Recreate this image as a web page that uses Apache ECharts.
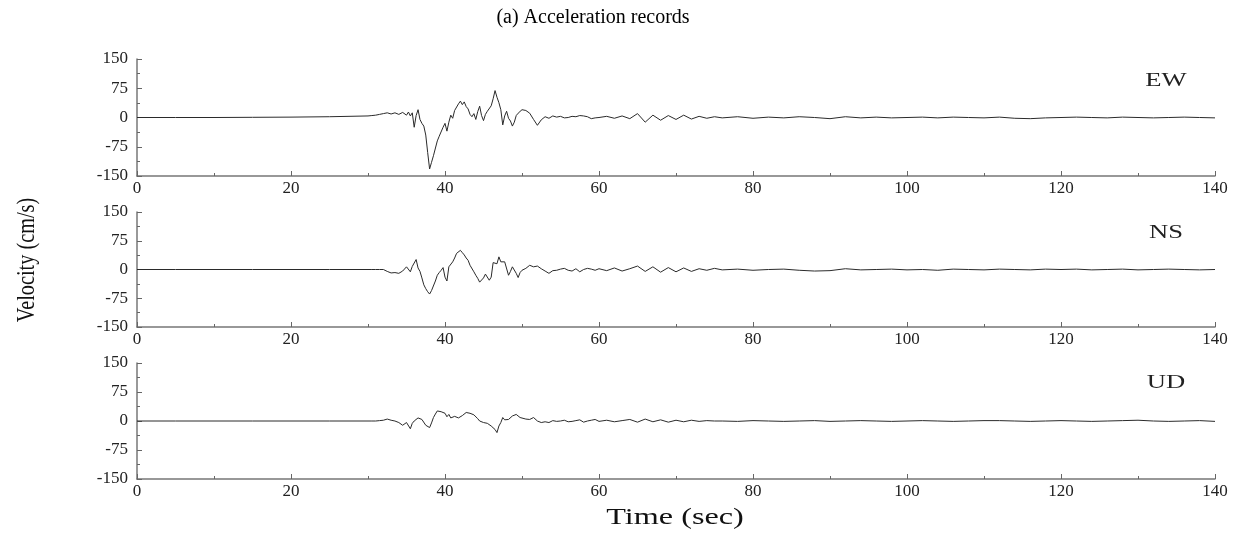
<!DOCTYPE html>
<html lang="en">
<head>
    <meta charset="UTF-8">
    <title>Acceleration records</title>
    <script src="https://cdn.jsdelivr.net/npm/echarts@6/dist/echarts.min.js"></script>
    <style>
        html, body { margin: 0; padding: 0; background: #fff; }
        #chart { width: 1247px; height: 536px; }
    </style>
</head>
<body>
    <div id="chart"></div>

    <script>
        // time grid (sec) shared by the three components, finer in the strong-motion part
        const timeSec = [
            0, 5, 10, 15, 20, 25, 30,
            30.5, 31, 31.5, 32, 32.5, 33, 33.5, 34, 34.5, 35,
            35.25, 35.5, 35.75, 36, 36.25, 36.5, 36.75, 37, 37.25, 37.5,
            37.75, 38, 38.25, 38.5, 38.75, 39, 39.25, 39.5, 39.75, 40,
            40.25, 40.5, 40.75, 41, 41.25, 41.5, 41.75, 42, 42.25, 42.5,
            42.75, 43, 43.25, 43.5, 43.75, 44, 44.25, 44.5, 44.75, 45,
            45.25, 45.5, 45.75, 46, 46.25, 46.5, 46.75, 47, 47.25, 47.5,
            47.75, 48, 48.25, 48.5, 48.75, 49, 49.25, 49.5, 49.75, 50,
            50.5, 51, 51.5, 52, 52.5, 53, 53.5, 54, 54.5, 55,
            55.5, 56, 56.5, 57, 57.5, 58, 58.5, 59, 59.5, 60,
            61, 62, 63, 64, 65, 66, 67, 68, 69, 70,
            71, 72, 73, 74, 75,
            76, 78, 80, 82, 84, 86, 88, 90, 92, 94,
            96, 98, 100, 102, 104, 106, 108, 110, 112, 114,
            116, 118, 120, 122, 124, 126, 128, 130, 132, 134,
            136, 138, 140
        ];

        const ewVel = [
            0, 0, 0, 0.5, 1, 2, 4,
            5, 6, 8, 10, 12, 9, 12, 8, 13, 6,
            14, 4, 12, -25, 5, 20, -5, -15, -22, -45,
            -90, -132, -115, -98, -102, -60, -48, -50, -25, -15,
            -35, -12, 6, -2, 18, 22, 35, 42, 33, 40,
            28, 22, 8, 2, 10, -5, 15, 29, 5, -8,
            8, 16, 12, 30, 48, 69, 52, 38, 20, -19,
            4, 16, -2, -9, -22, -12, 5, 11, 14, 20,
            18, 11, -5, -20, -6, 2, -2, 4, 1, 3,
            -1, 0, 3, 2, 5, 4, 2, -3, -1, 0,
            3, -2, 4, -3, 10, -12, 6, -7, 5, -5,
            6, -4, 3, -2, 2,
            -1, 2, -2, 1, -1, 2, 0, -3, 2, -1,
            1, -1, 0, 1, -1, 1, 0, -1, 1, -2,
            -3, -1, 0, 1, 0, -1, 1, 0, -1, 0,
            1, 0, -1
        ];

        const nsVel = [
            0, 0, 0, 0, 0, 0, 0,
            0, 0, 0, 0, -5, -9, -8, -10, -4, 7,
            3, -6, 8, 11, 26, 4, -5, -22, -40, -50,
            -58, -64, -55, -50, -30, -15, -8, -2, 5, -20,
            -30, 7, 10, 20, 30, 42, 47, 50, 44, 38,
            30, 24, 11, 8, -6, -15, -23, -33, -30, -22,
            -12, -15, -28, -20, 18, 22, 15, 33, 20, 15,
            20, 18, -15, -5, 7, 2, -10, -21, -8, -2,
            3, 11, 7, 9, 2, -4, -10, -3, -2, 1,
            3, -2, -4, 2, -6, 0, 3, 1, -2, 2,
            -3, 4, -4, 2, 9, -5, 7, -7, 5, -6,
            4, -5, 2, -2, 3,
            -1, 1, -2, 0, 1, -2, -4, -3, 2, -1,
            0, 1, -1, 0, -2, 1, 0, -1, 1, 0,
            -1, 1, 0, 1, -1, 0, 1, -1, 0, 1,
            0, -1, 0
        ];

        const udVel = [
            0, 0, 0, 0, 0, 0, 0,
            0, 0, 1, 2, 5, 2, 0, -4, -11, -4,
            -8, -20, -6, 0, 4, 8, 11, 4, 2, -11,
            -8, -17, -5, 9, 18, 26, 28, 24, 27, 20,
            11, 17, 8, 6, 12, 17, 8, 4, 14, 17,
            22, 26, 20, 22, 16, 13, 6, 0, -2, -4,
            -9, -6, -10, -13, -18, -22, -30, -13, -4, 9,
            3, 0, 4, 4, 13, 10, 17, 15, 9, 9,
            5, 4, 9, 0, -4, -2, -4, 1, -1, 0,
            2, -2, -1, 1, 3, -3, 0, 2, 4, -1,
            2, -2, 1, 4, -3, 5, -2, 3, -3, 2,
            -2, 2, -1, 1, 0,
            0, -1, 1, 0, -1, 0, 1, -1, 0, 1,
            0, -1, 0, 1, 0, -1, 0, 1, 1, 0,
            -1, 0, 1, 0, -1, 0, 1, 2, 0, -1,
            0, 1, -1
        ];

        const componentNames = ['EW', 'NS', 'UD'];
        const xTicks = [0, 140, 20];      // min, max, interval
        const yTicks = [-150, 150, 75];

        const serif = 'Liberation Serif';
        const grids = [
            { left: 137, width: 1078, top: 59, height: 117 },
            { left: 137, width: 1078, top: 212, height: 115 },
            { left: 137, width: 1078, top: 363, height: 116 }
        ];
        const labelY = [81, 233, 383];

        const axisLine = { show: true, onZero: false, lineStyle: { color: '#777', width: 1.5 } };
        const tickStyle = { show: true, inside: true, length: 5, lineStyle: { color: '#666' } };
        const minorStyle = { show: true, splitNumber: 2, length: 3, lineStyle: { color: '#666' } };
        const labelStyle = { fontFamily: serif, fontSize: 17, color: '#222' };

        const xAxes = grids.map((g, i) => ({
            type: 'value', gridIndex: i,
            min: xTicks[0], max: xTicks[1], interval: xTicks[2],
            axisLine: axisLine, axisTick: tickStyle, minorTick: minorStyle,
            splitLine: { show: false },
            axisLabel: Object.assign({ margin: 4 }, labelStyle)
        }));

        const yAxes = grids.map((g, i) => ({
            type: 'value', gridIndex: i,
            min: yTicks[0], max: yTicks[1], interval: yTicks[2],
            axisLine: axisLine, axisTick: tickStyle, minorTick: minorStyle,
            splitLine: { show: false },
            axisLabel: Object.assign({ margin: 9 }, labelStyle)
        }));

        const series = [ewVel, nsVel, udVel].map((vals, i) => ({
            type: 'line',
            name: componentNames[i],
            xAxisIndex: i, yAxisIndex: i,
            showSymbol: false,
            lineStyle: { color: '#2a2a2a', width: 1 },
            data: timeSec.map((t, k) => [t, vals[k]])
        }));

        // text items: panel labels + axis names
        const texts = componentNames.map((name, i) => ({
            type: 'text', x: 1166, y: labelY[i], scaleX: 1.4,
            style: { text: name, fontFamily: serif, fontSize: 19, fill: '#222', align: 'center', verticalAlign: 'middle' }
        }));
        texts.push({
            type: 'text', x: 675, y: 518, scaleX: 1.4,
            style: { text: 'Time (sec)', fontFamily: serif, fontSize: 23, fill: '#111', align: 'center', verticalAlign: 'middle' }
        });
        texts.push({
            type: 'text', x: 27, y: 260, rotation: Math.PI / 2, scaleX: 0.78,
            style: { text: 'Velocity (cm/s)', fontFamily: serif, fontSize: 26, fill: '#111', align: 'center', verticalAlign: 'middle' }
        });

        const chart = echarts.init(document.getElementById('chart'));
        chart.setOption({
            animation: false,
            title: {
                text: '(a) Acceleration records',
                left: 588, top: 3, textAlign: 'center',
                textStyle: { fontFamily: serif, fontSize: 20, fontWeight: 'normal', color: '#000' }
            },
            grid: grids,
            xAxis: xAxes,
            yAxis: yAxes,
            series: series,
            graphic: texts
        });
    </script>
</body>
</html>
